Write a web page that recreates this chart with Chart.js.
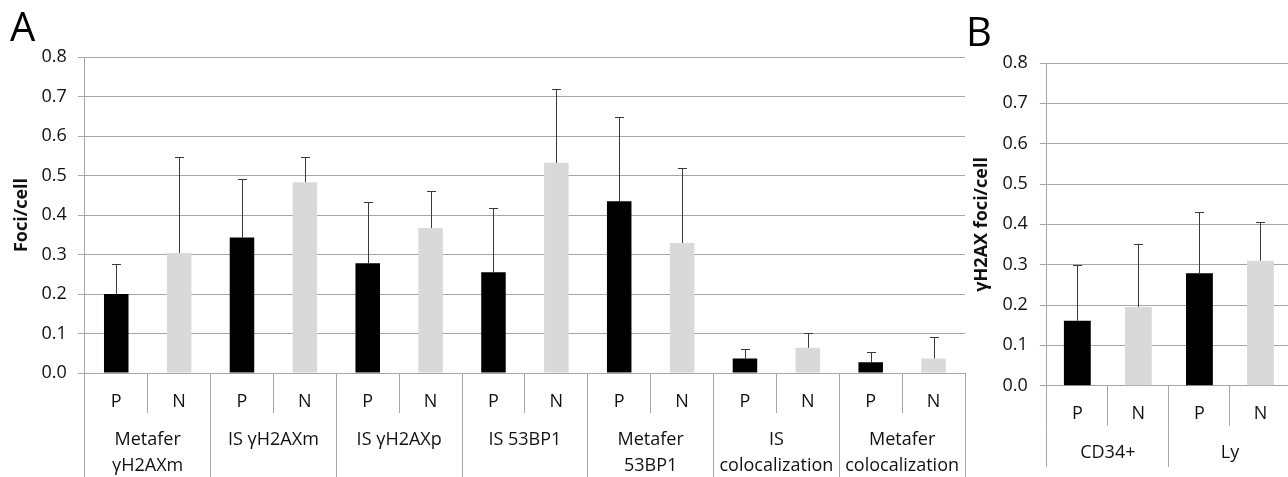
<!DOCTYPE html>
<html>
<head>
<meta charset="utf-8">
<script src="https://cdn.jsdelivr.net/npm/chart.js@4.4.1/dist/chart.umd.min.js"></script>
<style>
  html, body { margin: 0; padding: 0; background: #fff; overflow: hidden; width: 1288px; height: 477px; }
  .panel { position: absolute; top: 0; }
  .tag { position: absolute; font-family: 'Open Sans', sans-serif; font-size: 40px; line-height: 40px; color: #000; }
</style>
</head>
<body>
<div class="panel" style="left:0"><canvas id="chartA" width="972" height="500"></canvas></div>
<div class="panel" style="left:960px"><canvas id="chartB" width="340" height="477"></canvas></div>
<div class="tag" style="left:10px;top:6px">A</div>
<div class="tag" style="left:966px;top:11px">B</div>
<script>
// ── Data ──────────────────────────────────────────────────────────────────────
const SUB_LABELS = ['P', 'N'];

// panel A
const groupsA = [['Metafer', 'γH2AXm'], 'IS γH2AXm', 'IS γH2AXp', 'IS 53BP1',
                 ['Metafer', '53BP1'], ['IS', 'colocalization'], ['Metafer', 'colocalization']];
const posA    = [0.200, 0.343, 0.278, 0.255, 0.435, 0.037, 0.027];
const posAErr = [0.075, 0.149, 0.155, 0.163, 0.213, 0.025, 0.025];
const negA    = [0.304, 0.483, 0.367, 0.532, 0.329, 0.064, 0.037];
const negAErr = [0.243, 0.064, 0.095, 0.186, 0.191, 0.038, 0.054];

// panel B
const groupsB = ['CD34+', 'Ly'];
const posB    = [0.161, 0.279];
const posBErr = [0.139, 0.152];
const negB    = [0.195, 0.310];
const negBErr = [0.157, 0.097];

const yTicks = [0, 0.1, 0.2, 0.3, 0.4, 0.5, 0.6, 0.7, 0.8];

// ── Styles ────────────────────────────────────────────────────────────────────
const GRID  = '#a6a6a6';
const TEXT  = '#111';
const P_COL = '#000000';
const N_COL = '#d9d9d9';
const FONT  = "'Open Sans', sans-serif";

// error bars drawn on top of each bar, using the y scale
const errorBars = {
  id: 'errorBars',
  afterDatasetsDraw(chart) {
    const { ctx, scales: { y } } = chart;
    const ds = chart.data.datasets[0];
    const meta = chart.getDatasetMeta(0);
    ctx.save();
    ctx.strokeStyle = '#3a3a3a';
    ctx.lineWidth = 1;
    meta.data.forEach((bar, i) => {
      const top = Math.round(y.getPixelForValue(ds.data[i] + ds.errors[i])) + 0.5;
      const x = Math.round(bar.x) + 0.5;
      ctx.beginPath();
      ctx.moveTo(x, bar.y);
      ctx.lineTo(x, top);
      ctx.moveTo(x - 4.5, top);
      ctx.lineTo(x + 4.5, top);
      ctx.stroke();
    });
    ctx.restore();
  }
};

// axis heights are fixed in afterFit; labels are pulled up into the long tick
// marks with negative padding (labels get clipped to the axis box)
function makeChart(id, groups, p, pErr, n, nErr, o) {
  const labels = groups.flatMap(() => SUB_LABELS);
  const values = groups.flatMap((g, i) => [p[i], n[i]]);
  const errors = groups.flatMap((g, i) => [pErr[i], nErr[i]]);
  return new Chart(document.getElementById(id), {
    type: 'bar',
    data: {
      labels,
      datasets: [{
        data: values,
        errors,
        backgroundColor: values.map((v, i) => i % 2 ? N_COL : P_COL),
        borderWidth: 0,
        barPercentage: o.barPct,
        categoryPercentage: 1,
      }]
    },
    options: {
      responsive: false,
      animation: false,
      layout: { padding: o.padding },
      plugins: { legend: { display: false }, tooltip: { enabled: false } },
      scales: {
        x: {
          offset: true,
          afterFit: axis => { axis.height = 40; },
          grid: { drawOnChartArea: false, offset: true, tickLength: 40, color: GRID },
          border: { color: GRID },
          ticks: { color: TEXT, font: { family: FONT, size: 18 }, padding: -22.3, maxRotation: 0, autoSkip: false },
        },
        x2: {
          type: 'category',
          labels: groups,
          position: 'bottom',
          weight: 1,
          offset: true,
          afterFit: axis => { axis.height = o.groupHeight; },
          grid: { drawOnChartArea: false, offset: true, tickLength: o.groupTick, color: GRID },
          border: { display: false },
          ticks: { color: TEXT, font: { family: FONT, size: 18, lineHeight: 1.45 }, padding: 14 - o.groupTick, maxRotation: 0, autoSkip: false },
        },
        y: {
          min: 0,
          max: 0.8,
          afterBuildTicks: axis => { axis.ticks = yTicks.map(v => ({ value: v })); },
          ticks: { color: TEXT, font: { family: FONT, size: 18 }, padding: o.tickPad, callback: v => v.toFixed(1) },
          grid: { color: GRID, tickLength: 7 },
          border: { color: GRID },
          title: {
            display: true, text: o.yTitle, color: TEXT,
            font: { family: FONT, size: 18, weight: 'bold', lineHeight: 1 },
            padding: { top: o.titleTop, bottom: o.titleBottom },
          },
        },
      },
    },
    plugins: [errorBars],
  });
}

makeChart('chartA', groupsA, posA, posAErr, negA, negAErr, {
  barPct: 0.39, yTitle: 'Foci/cell', titleTop: 12.5, titleBottom: 0, tickPad: 11,
  groupTick: 100, groupHeight: 70,
  padding: { top: 57, right: 7, bottom: 17, left: 0 },
});

makeChart('chartB', groupsB, posB, posBErr, negB, negBErr, {
  barPct: 0.44, yTitle: 'γH2AX foci/cell', titleTop: 12.5, titleBottom: 0, tickPad: 12,
  groupTick: 41.3, groupHeight: 42,
  padding: { top: 63, right: 9, bottom: 9.3, left: 0 },
});
</script>
</body>
</html>
